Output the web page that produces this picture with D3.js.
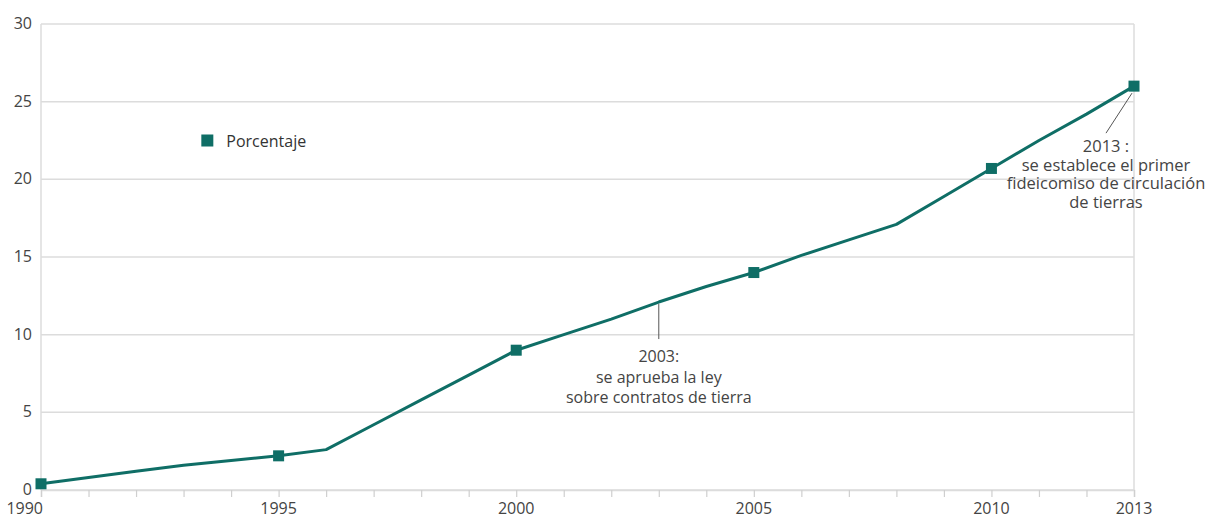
<!DOCTYPE html>
<html>
<head>
<meta charset="utf-8">
<script src="https://cdn.jsdelivr.net/npm/d3@7"></script>
<style>
  body { margin: 0; background: #fff; }
  text { font-family: "Open Sans", sans-serif; fill: #444; }
</style>
</head>
<body>
<svg id="chart" width="1214" height="517"></svg>
<script>
// data
const years = [1990, 1991, 1992, 1993, 1994, 1995, 1996, 1997, 1998, 1999, 2000, 2001,
  2002, 2003, 2004, 2005, 2006, 2007, 2008, 2009, 2010, 2011, 2012, 2013];
const porcentaje = [0.4, 0.8, 1.2, 1.6, 1.9, 2.2, 2.6, 4.2, 5.8, 7.4, 9.0, 10.0,
  11.0, 12.1, 13.1, 14.0, 15.1, 16.1, 17.1, 18.9, 20.7, 22.5, 24.2, 26.0];
const markerYears = [1990, 1995, 2000, 2005, 2010, 2013];
const yTicks = [0, 5, 10, 15, 20, 25, 30];
const xLabels = [1990, 1995, 2000, 2005, 2010, 2013];
const seriesName = "Porcentaje";
const notes = [
  { year: 2003, lines: ["2003:", "se aprueba la ley", "sobre contratos de tierra"] },
  { year: 2013, lines: ["2013 :", "se establece el primer", "fideicomiso de circulación", "de tierras"] }
];

const svg = d3.select("#chart");
const margin = { top: 24, right: 80, bottom: 27, left: 41 };
const width = +svg.attr("width");
const height = +svg.attr("height");
const innerWidth = width - margin.left - margin.right;
const innerHeight = height - margin.top - margin.bottom;
const teal = "#0f6e66";

const g = svg.append("g")
  .attr("transform", `translate(${margin.left},${margin.top})`);

const x = d3.scaleLinear().domain([1990, 2013]).range([0, innerWidth]);
const y = d3.scaleLinear().domain([0, 30]).range([innerHeight, 0]);

const data = years.map((yr, i) => ({ year: yr, value: porcentaje[i] }));

// grid lines
g.append("g")
  .selectAll("line")
  .data(yTicks)
  .enter()
  .append("line")
  .attr("x1", 0)
  .attr("x2", innerWidth)
  .attr("y1", d => y(d))
  .attr("y2", d => y(d))
  .attr("stroke", "#dcdcdc")
  .attr("stroke-width", 1.5);

// left and right frame
[0, innerWidth].forEach(px => {
  g.append("line")
    .attr("x1", px).attr("x2", px)
    .attr("y1", 0).attr("y2", innerHeight)
    .attr("stroke", "#dcdcdc")
    .attr("stroke-width", 1.5);
});

// y labels
g.append("g")
  .selectAll("text")
  .data(yTicks)
  .enter()
  .append("text")
  .attr("x", -9)
  .attr("y", d => y(d) + 5)
  .attr("text-anchor", "end")
  .style("font-size", "16px")
  .text(d => d);

// x axis: small tick every year
const xAxis = d3.axisBottom(x)
  .tickValues(years)
  .tickSize(7)
  .tickFormat("");
const xg = g.append("g")
  .attr("transform", `translate(0,${innerHeight})`)
  .call(xAxis);
xg.select(".domain").attr("stroke", "#dcdcdc").attr("stroke-width", 1.5);
xg.selectAll(".tick line").attr("stroke", "#cfcfcf").attr("stroke-width", 1.2);

g.append("g")
  .selectAll("text")
  .data(xLabels)
  .enter()
  .append("text")
  .attr("x", d => x(d))
  .attr("y", innerHeight + 24)
  .attr("text-anchor", (d, i) => i === 0 ? "end" : "middle")
  .attr("dx", (d, i) => i === 0 ? 2 : 0)
  .style("font-size", "16px")
  .text(d => d);

// annotations (leader lines + text)
const n2003 = notes[0];
const p2003 = data.find(d => d.year === n2003.year);
g.append("line")
  .attr("x1", x(n2003.year)).attr("x2", x(n2003.year))
  .attr("y1", y(p2003.value) + 2).attr("y2", y(p2003.value) + 37)
  .attr("stroke", "#555").attr("stroke-width", 1);
g.append("text")
  .attr("text-anchor", "middle")
  .style("font-size", "16px")
  .selectAll("tspan")
  .data(n2003.lines)
  .enter()
  .append("tspan")
  .attr("x", x(n2003.year))
  .attr("y", (d, i) => y(p2003.value) + 60 + i * 20.5)
  .text(d => d);

const n2013 = notes[1];
const p2013 = data.find(d => d.year === n2013.year);
g.append("line")
  .attr("x1", x(n2013.year) - 2).attr("x2", x(n2013.year) - 28)
  .attr("y1", y(p2013.value) + 7).attr("y2", y(p2013.value) + 47)
  .attr("stroke", "#555").attr("stroke-width", 1);
g.append("text")
  .attr("text-anchor", "middle")
  .style("font-size", "16.5px")
  .selectAll("tspan")
  .data(n2013.lines)
  .enter()
  .append("tspan")
  .attr("x", x(n2013.year) - 28)
  .attr("y", (d, i) => y(p2013.value) + 66 + i * 18.5)
  .text(d => d);

// series line
const line = d3.line()
  .x(d => x(d.year))
  .y(d => y(d.value));

g.append("path")
  .datum(data)
  .attr("fill", "none")
  .attr("stroke", teal)
  .attr("stroke-width", 3)
  .attr("stroke-linejoin", "round")
  .attr("d", line);

// markers
const ms = 11;
g.append("g")
  .selectAll("rect")
  .data(data.filter(d => markerYears.includes(d.year)))
  .enter()
  .append("rect")
  .attr("x", d => x(d.year) - ms / 2)
  .attr("y", d => y(d.value) - ms / 2)
  .attr("width", ms)
  .attr("height", ms)
  .attr("fill", teal);

// legend
const legend = g.append("g")
  .attr("transform", `translate(${x(1993.5)},${y(22.5)})`);
legend.append("rect")
  .attr("x", -6).attr("y", -6)
  .attr("width", 12).attr("height", 12)
  .attr("fill", teal);
legend.append("text")
  .attr("x", 19)
  .attr("y", 6)
  .style("font-size", "16px")
  .style("fill", "#333")
  .text(seriesName);
</script>
</body>
</html>
